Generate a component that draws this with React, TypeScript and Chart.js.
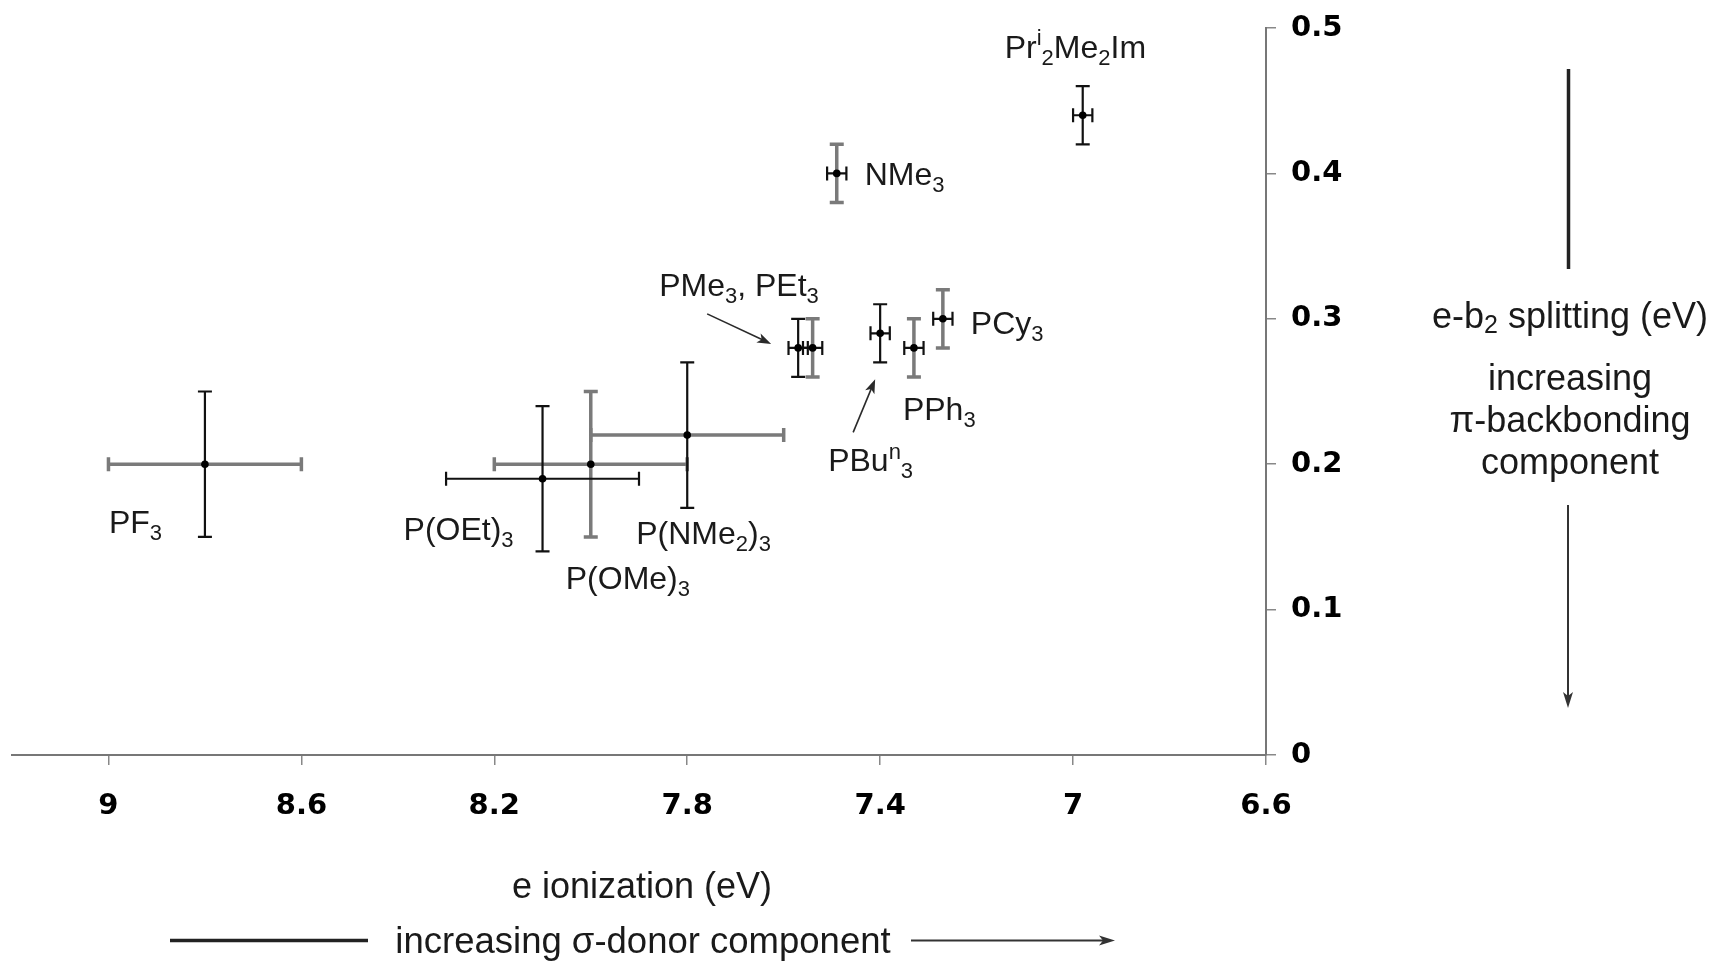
import React, { useEffect, useRef } from 'react';
import { Chart, registerables } from 'chart.js';

Chart.register(...registerables);

// ---- data ----
const LIGANDS = ['PF_3', 'P(OEt)_3', 'P(OMe)_3', 'P(NMe_2)_3', 'PMe_3', 'PEt_3', 'PBu^n_3', 'PPh_3', 'PCy_3', 'NMe_3', 'Pr^i_2Me_2Im'];
const E_IONIZATION = [8.8, 8.1, 8.0, 7.8, 7.57, 7.54, 7.4, 7.33, 7.27, 7.49, 6.98];
const E_IONIZATION_ERR = [0.2, 0.2, 0.2, 0.2, 0.02, 0.02, 0.02, 0.02, 0.02, 0.02, 0.02];
const SPLITTING = [0.2, 0.19, 0.2, 0.22, 0.28, 0.28, 0.29, 0.28, 0.3, 0.4, 0.44];
const SPLITTING_ERR = [0.05, 0.05, 0.05, 0.05, 0.02, 0.02, 0.02, 0.02, 0.02, 0.02, 0.02];
// shade of the horizontal / vertical error bar of each ligand
const X_BAR_SHADE = ['grey', 'black', 'grey', 'grey', 'black', 'black', 'black', 'black', 'black', 'black', 'black'];
const Y_BAR_SHADE = ['black', 'black', 'grey', 'black', 'black', 'grey', 'black', 'grey', 'grey', 'grey', 'black'];

const X_TICKS = [9, 8.6, 8.2, 7.8, 7.4, 7, 6.6];
const X_TICK_LABELS = ['9', '8.6', '8.2', '7.8', '7.4', '7', '6.6'];
const Y_TICKS = [0, 0.1, 0.2, 0.3, 0.4, 0.5];
const Y_TICK_LABELS = ['0', '0.1', '0.2', '0.3', '0.4', '0.5'];
const X_MIN = 6.6;
const X_MAX = 9.2;
const Y_MIN = 0;
const Y_MAX = 0.5;

const X_TITLE = 'e ionization (eV)';
const X_NOTE = 'increasing σ-donor component';
const Y_TITLE = 'e-b_2 splitting (eV)';
const Y_NOTE = ['increasing', 'π-backbonding', 'component'];

// ---- label placement (pixel offsets from each labelled point) ----
// label text, index of anchor point, dx, dy (baseline-left)
const LABELS: [string, number, number, number][] = [
  ['PF_3', 0, -96, 69],
  ['P(OEt)_3', 1, -139, 61],
  ['P(OMe)_3', 2, -25, 125],
  ['P(NMe_2)_3', 3, -51, 109],
  ['PMe_3, PEt_3', 4, -139, -52],
  ['PBu^n_3', 6, -52, 138],
  ['PPh_3', 7, -11, 72],
  ['PCy_3', 8, 28, 15],
  ['NMe_3', 9, 28, 12],
  ['Pr^i_2Me_2Im', 10, -78, -57],
];
// pointer arrows: anchor point, tail dx, dy, tip dx, dy
const POINTERS: [number, number, number, number, number][] = [
  [4, -91, -34, -27, -4],
  [6, -27, 99, -5, 46],
];

const TEXT_COLOR = '#1a1a1a';
const BLACK_BAR = '#111111';
const GREY_BAR = '#7a7a7a';
const LABEL_FONT = '"Liberation Sans", Arial, sans-serif';
const TICK_FONT = '"DejaVu Sans", Verdana, sans-serif';

type Seg = { t: string; m: 'n' | 'sub' | 'sup' };
function parseRich(s: string): Seg[] {
  const segs: Seg[] = [];
  let buf = '';
  let i = 0;
  while (i < s.length) {
    const c = s[i];
    if (c === '_' || c === '^') {
      if (buf) { segs.push({ t: buf, m: 'n' }); buf = ''; }
      const m = c === '_' ? 'sub' : 'sup';
      i++;
      let t = '';
      if (s[i] === '{') {
        i++;
        while (i < s.length && s[i] !== '}') { t += s[i]; i++; }
        i++;
      } else { t = s[i]; i++; }
      segs.push({ t, m });
    } else { buf += c; i++; }
  }
  if (buf) segs.push({ t: buf, m: 'n' });
  return segs;
}

function drawRich(ctx: CanvasRenderingContext2D, s: string, x: number, y: number, size: number, align: 'left' | 'center') {
  const segs = parseRich(s);
  const small = Math.round(size * 0.7);
  const fontN = `${size}px ${LABEL_FONT}`;
  const fontS = `${small}px ${LABEL_FONT}`;
  let w = 0;
  for (const g of segs) { ctx.font = g.m === 'n' ? fontN : fontS; w += ctx.measureText(g.t).width; }
  let cx = align === 'center' ? x - w / 2 : x;
  ctx.textAlign = 'left';
  for (const g of segs) {
    ctx.font = g.m === 'n' ? fontN : fontS;
    const dy = g.m === 'sub' ? size * 0.22 : g.m === 'sup' ? -size * 0.4 : 0;
    ctx.fillText(g.t, cx, y + dy);
    cx += ctx.measureText(g.t).width;
  }
}

function drawArrow(ctx: CanvasRenderingContext2D, x1: number, y1: number, x2: number, y2: number, lw: number, head: number, hw: number, color: string) {
  const ang = Math.atan2(y2 - y1, x2 - x1);
  ctx.strokeStyle = color;
  ctx.fillStyle = color;
  ctx.lineWidth = lw;
  ctx.beginPath();
  ctx.moveTo(x1, y1);
  ctx.lineTo(x2 - Math.cos(ang) * head * 0.6, y2 - Math.sin(ang) * head * 0.6);
  ctx.stroke();
  ctx.beginPath();
  ctx.moveTo(x2, y2);
  ctx.lineTo(x2 - Math.cos(ang) * head + Math.sin(ang) * hw, y2 - Math.sin(ang) * head - Math.cos(ang) * hw);
  ctx.lineTo(x2 - Math.cos(ang) * head * 0.75, y2 - Math.sin(ang) * head * 0.75);
  ctx.lineTo(x2 - Math.cos(ang) * head - Math.sin(ang) * hw, y2 - Math.sin(ang) * head + Math.cos(ang) * hw);
  ctx.closePath();
  ctx.fill();
}

const errorBarPlugin = {
  id: 'errorBars',
  beforeDatasetsDraw(chart: any) {
    const { ctx, scales } = chart;
    const xs = scales.x;
    const ys = scales.y;
    const cap = 7;
    ctx.save();
    ctx.lineCap = 'butt';
    for (const pass of ['grey', 'black']) {
      for (let i = 0; i < LIGANDS.length; i++) {
        const px = xs.getPixelForValue(E_IONIZATION[i]);
        const py = ys.getPixelForValue(SPLITTING[i]);
        if (X_BAR_SHADE[i] === pass) {
          const a = xs.getPixelForValue(E_IONIZATION[i] + E_IONIZATION_ERR[i]);
          const b = xs.getPixelForValue(E_IONIZATION[i] - E_IONIZATION_ERR[i]);
          ctx.strokeStyle = pass === 'grey' ? GREY_BAR : BLACK_BAR;
          ctx.lineWidth = pass === 'grey' ? 3.5 : 2.2;
          ctx.beginPath();
          ctx.moveTo(a, py); ctx.lineTo(b, py);
          ctx.moveTo(a, py - cap); ctx.lineTo(a, py + cap);
          ctx.moveTo(b, py - cap); ctx.lineTo(b, py + cap);
          ctx.stroke();
        }
        if (Y_BAR_SHADE[i] === pass) {
          const a = ys.getPixelForValue(SPLITTING[i] + SPLITTING_ERR[i]);
          const b = ys.getPixelForValue(SPLITTING[i] - SPLITTING_ERR[i]);
          ctx.strokeStyle = pass === 'grey' ? GREY_BAR : BLACK_BAR;
          ctx.lineWidth = pass === 'grey' ? 3.5 : 2.2;
          ctx.beginPath();
          ctx.moveTo(px, a); ctx.lineTo(px, b);
          ctx.moveTo(px - cap, a); ctx.lineTo(px + cap, a);
          ctx.moveTo(px - cap, b); ctx.lineTo(px + cap, b);
          ctx.stroke();
        }
      }
    }
    ctx.restore();
  },
};

const annotationPlugin = {
  id: 'annotations',
  afterDraw(chart: any) {
    const { ctx, scales } = chart;
    const xs = scales.x;
    const ys = scales.y;
    ctx.save();
    ctx.fillStyle = TEXT_COLOR;
    ctx.textBaseline = 'alphabetic';
    for (const [text, idx, dx, dy] of LABELS) {
      const px = xs.getPixelForValue(E_IONIZATION[idx]);
      const py = ys.getPixelForValue(SPLITTING[idx]);
      ctx.fillStyle = TEXT_COLOR;
      drawRich(ctx, text, px + dx, py + dy, 32, 'left');
    }
    for (const [idx, tx, ty, hx, hy] of POINTERS) {
      const px = xs.getPixelForValue(E_IONIZATION[idx]);
      const py = ys.getPixelForValue(SPLITTING[idx]);
      drawArrow(ctx, px + tx, py + ty, px + hx, py + hy, 1.6, 14, 5, '#2a2a2a');
    }

    // right-hand axis title and note
    const rx = 1570;
    ctx.fillStyle = TEXT_COLOR;
    ctx.textBaseline = 'middle';
    drawRich(ctx, Y_TITLE, rx, 318, 36, 'center');
    const noteY = [380, 422, 464];
    Y_NOTE.forEach((t, k) => drawRich(ctx, t, rx, noteY[k], 36, 'center'));
    ctx.strokeStyle = '#222';
    ctx.lineWidth = 3.5;
    ctx.beginPath();
    ctx.moveTo(1568.5, 69); ctx.lineTo(1568.5, 269);
    ctx.stroke();
    drawArrow(ctx, 1568, 505, 1568, 708, 2, 16, 5, '#333');

    // bottom axis title and note
    ctx.fillStyle = TEXT_COLOR;
    drawRich(ctx, X_TITLE, 642, 888, 36, 'center');
    drawRich(ctx, X_NOTE, 643, 943, 36.5, 'center');
    ctx.strokeStyle = '#222';
    ctx.lineWidth = 3.5;
    ctx.beginPath();
    ctx.moveTo(170, 940.5); ctx.lineTo(368, 940.5);
    ctx.stroke();
    drawArrow(ctx, 911, 940.5, 1115, 940.5, 2, 16, 5, '#333');
    ctx.restore();
  },
};

export default function App() {
  const ref = useRef<HTMLCanvasElement>(null);
  useEffect(() => {
    document.body.style.margin = '0';
    const canvas = ref.current;
    if (!canvas) return;
    const points = E_IONIZATION.map((x, i) => ({ x, y: SPLITTING[i] }));
    const tickFont = { family: TICK_FONT, size: 29, weight: 'bold' as const };
    const chart = new Chart(canvas, {
      type: 'scatter',
      data: {
        datasets: [
          {
            label: 'ligands',
            data: points,
            pointRadius: 3.8,
            pointBackgroundColor: '#000',
            pointBorderWidth: 0,
            showLine: false,
          },
        ],
      },
      options: {
        animation: false,
        responsive: false,
        devicePixelRatio: 1,
        layout: { padding: { left: 12, top: 28, right: 0, bottom: 0 } },
        plugins: { legend: { display: false }, tooltip: { enabled: false } },
        scales: {
          x: {
            type: 'linear',
            position: 'bottom',
            reverse: true,
            min: X_MIN,
            max: X_MAX,
            afterBuildTicks: (s: any) => { s.ticks = X_TICKS.map((v) => ({ value: v })); },
            afterFit: (s: any) => { s.height = 206; s.paddingLeft = 0; s.paddingRight = 0; },
            ticks: {
              autoSkip: false,
              maxRotation: 0,
              padding: 24,
              color: '#000',
              font: tickFont,
              callback: (_v: any, i: number) => X_TICK_LABELS[i],
            },
            grid: { drawOnChartArea: false, drawTicks: true, tickLength: 10, color: '#888', lineWidth: 1.5 },
            border: { display: true, color: '#777', width: 2 },
          },
          y: {
            type: 'linear',
            position: 'right',
            min: Y_MIN,
            max: Y_MAX,
            afterBuildTicks: (s: any) => { s.ticks = Y_TICKS.map((v) => ({ value: v })); },
            afterFit: (s: any) => { s.width = 455; s.paddingTop = 0; s.paddingBottom = 0; },
            ticks: {
              autoSkip: false,
              padding: 15,
              color: '#000',
              font: tickFont,
              callback: (_v: any, i: number) => Y_TICK_LABELS[i],
            },
            grid: { drawOnChartArea: false, drawTicks: true, tickLength: 10, color: '#888', lineWidth: 1.5 },
            border: { display: true, color: '#777', width: 2 },
          },
        },
      },
      plugins: [errorBarPlugin, annotationPlugin],
    });
    return () => chart.destroy();
  }, []);
  return (
    <div style={{ width: 1721, height: 961 }}>
      <canvas ref={ref} width={1721} height={961} style={{ display: 'block' }} />
    </div>
  );
}
